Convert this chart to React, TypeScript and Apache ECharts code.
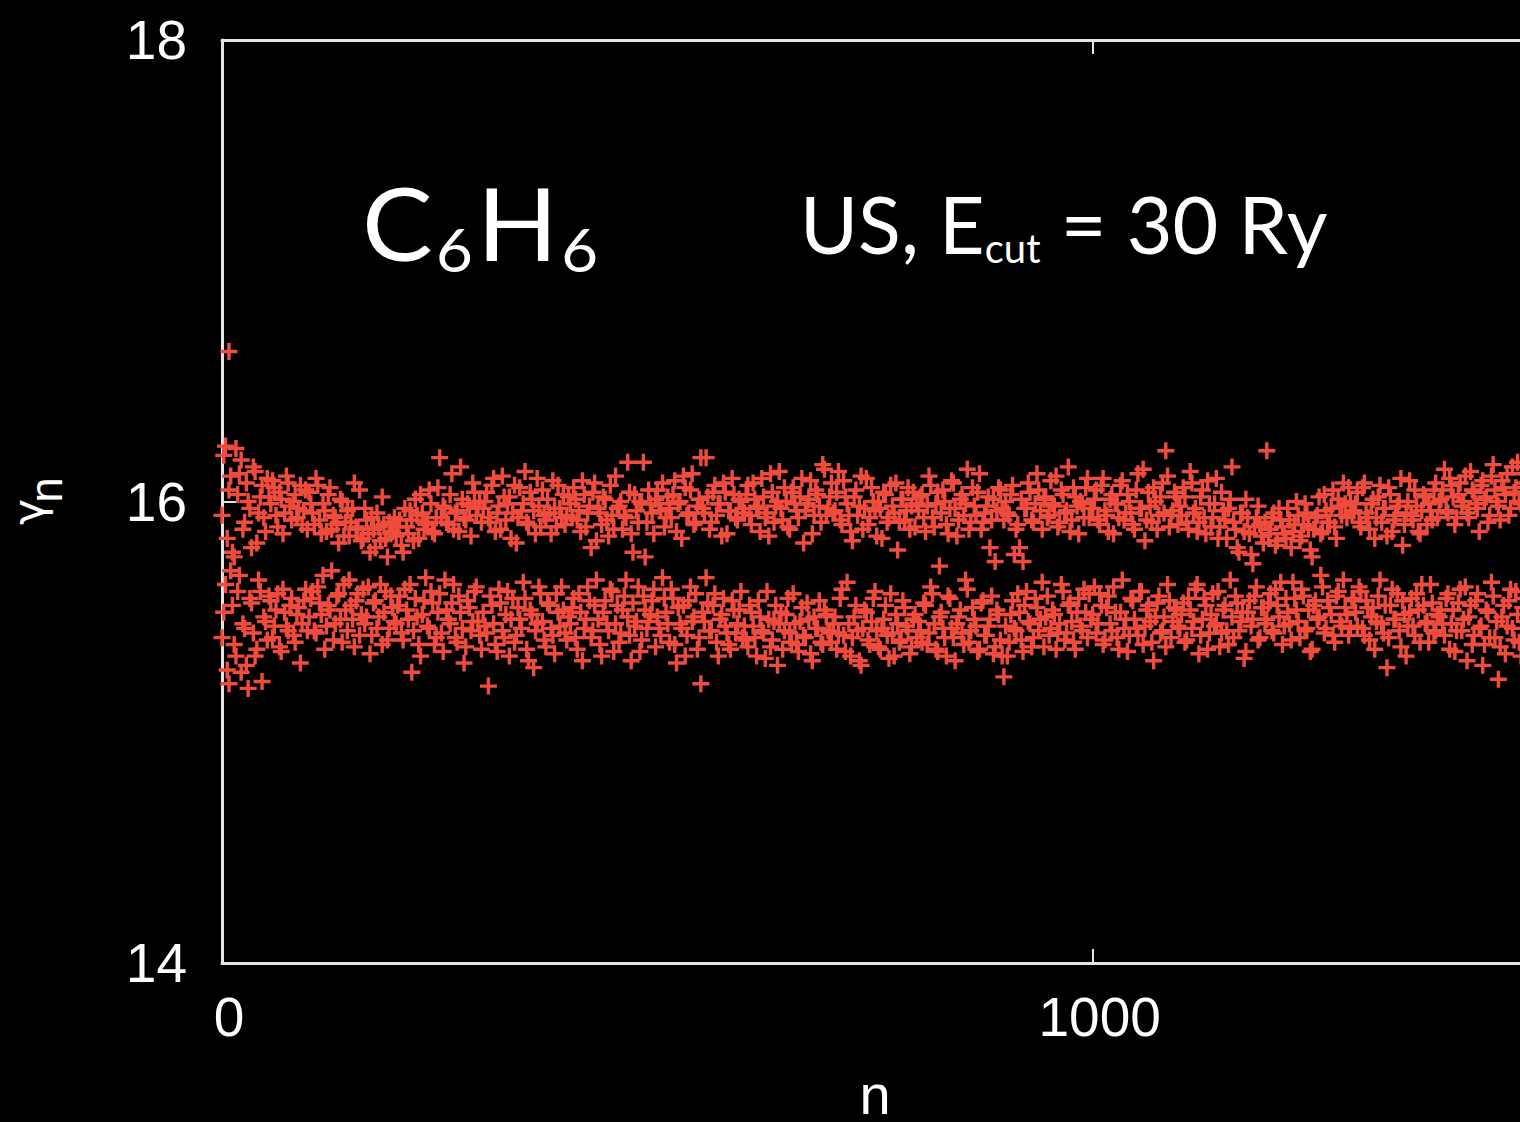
import React, { useEffect, useRef } from "react";
import * as echarts from "echarts";

// x ticks / y ticks
const xTicks = [0, 1000];
const yTicks = [14, 16, 18];

// upper band of gamma_n, n = 0, 4, 8, ...
const upperA = [
  15.94, 16.24, 16.05, 15.78, 16.23, 16.12, 15.88, 16.08, 15.97, 16.15, 15.82, 16.02, 15.93, 16.1, 15.99, 16.06, 15.89, 16.01, 15.95, 16.08, 15.92, 16.03, 15.97, 15.9, 16.05,
  16.04, 15.95, 16.1, 15.92, 15.99, 15.87, 16.06, 15.94, 15.9, 16.01, 15.85, 15.96, 15.91, 16.08, 15.88, 15.83, 15.97, 15.86, 15.93, 15.8, 15.89, 16.02, 15.84, 15.91, 15.87,
  15.85, 15.92, 15.78, 15.89, 15.96, 15.83, 15.94, 16.03, 15.88, 15.91, 15.99, 15.86, 16.06, 15.93, 15.97, 15.9, 16.12, 15.95, 15.87, 16.01, 15.92, 15.98, 16.08, 15.94, 16.0,
  15.97, 16.04, 15.91, 16.1, 15.95, 15.88, 16.02, 15.99, 15.84, 16.07, 15.93, 15.96, 16.13, 15.9, 16.01, 15.86, 15.98, 16.05, 15.92, 15.95, 16.09, 15.89, 15.97, 16.03, 15.94,
  15.99, 16.06, 15.92, 15.87, 16.03, 15.95, 15.8, 16.08, 15.97, 15.9, 16.01, 15.85, 15.94, 16.11, 15.98, 15.88, 15.93, 16.04, 15.78, 15.96, 16.0, 16.17, 15.91, 15.99, 15.86,
];
const upperB = [
  16.05, 15.96, 15.89, 16.02, 15.93, 16.09, 15.99, 15.84, 16.06, 15.95, 16.12, 15.91, 16.01, 15.97, 16.19, 15.88, 16.04, 15.94, 15.99, 16.08, 15.86, 15.96, 16.03, 15.92, 16.0,
  15.95, 16.07, 15.9, 16.01, 15.97, 16.1, 15.93, 15.85, 16.04, 15.98, 16.13, 15.92, 16.0, 15.88, 16.06, 15.96, 16.02, 15.82, 15.99, 16.09, 15.94, 16.03, 15.91, 16.14, 15.97,
  16.08, 15.96, 16.13, 15.9, 16.02, 15.94, 15.83, 16.05, 15.98, 15.88, 16.1, 15.93, 16.0, 15.85, 15.97, 16.04, 15.91, 16.07, 15.95, 15.79, 16.01, 15.92, 16.06, 15.98, 15.89,
  15.96, 16.03, 15.87, 16.11, 15.93, 15.99, 15.72, 16.05, 15.9, 15.97, 16.08, 15.85, 16.01, 15.94, 16.14, 15.91, 15.98, 16.04, 15.88, 15.95, 16.02, 15.92, 15.74, 16.06, 15.97,
  16.0, 15.94, 16.07, 15.88, 15.8, 15.74, 15.97, 16.04, 15.91, 16.12, 15.96, 16.01, 15.93, 16.09, 15.98, 15.89, 16.05, 15.95, 16.15, 15.92, 16.02, 15.86, 15.99, 16.06, 15.93,
];
const upperC = [
  15.97, 16.05, 15.9, 16.1, 15.94, 16.01, 15.86, 15.99, 16.07, 15.92, 16.03, 15.95, 15.88, 16.12, 15.97, 15.83, 16.04, 15.91, 16.0, 15.94, 16.08, 16.22, 15.89, 15.96, 16.02,
  15.98, 16.06, 15.91, 16.13, 15.95, 15.87, 16.02, 15.93, 16.09, 15.89, 15.99, 15.84, 16.04, 15.92, 15.97, 16.15, 15.88, 15.78, 15.95, 16.01, 15.86, 15.73, 15.93, 15.9, 15.82,
  16.22, 15.88, 15.95, 15.83, 15.92, 15.86, 15.97, 15.8, 15.9, 15.94, 15.85, 15.99, 15.89, 15.76, 15.93, 16.02, 15.87, 15.96, 15.91, 16.05, 15.84, 15.98, 16.08, 15.93, 16.0,
  15.96, 16.04, 15.89, 16.08, 15.93, 15.99, 15.84, 16.02, 15.91, 15.97, 16.06, 15.87, 15.94, 16.0, 15.81, 15.95, 16.09, 15.92, 15.98, 15.86, 16.03, 15.9, 15.96, 16.05, 15.93,
  16.01, 16.14, 15.95, 16.07, 15.9, 16.03, 15.98, 16.11, 15.93, 16.05, 15.99, 15.87, 16.09, 16.02, 15.94, 16.16, 16.0, 15.92, 16.06, 16.12, 15.97, 16.04, 16.17, 15.99, 16.08,
];
// upper band, n = 2, 6, 10, ...
const upperD = [
  16.2, 15.84, 16.11, 15.76, 16.03, 16.18, 15.91, 16.0, 15.8, 16.13, 15.95, 16.07, 15.87, 16.02, 16.09, 15.94, 16.04, 15.86, 16.11, 15.98, 16.0, 15.93, 16.07, 15.96, 15.88,
  15.99, 15.9, 16.07, 15.86, 15.96, 16.03, 15.88, 15.93, 15.82, 16.0, 15.91, 15.85, 15.97, 15.89, 16.05, 15.84, 15.92, 15.78, 15.88, 15.95, 15.83, 15.9, 15.76, 15.86, 15.93,
  15.89, 15.81, 15.97, 15.86, 15.92, 16.01, 15.84, 15.95, 15.9, 16.05, 15.87, 15.93, 16.19, 15.98, 15.91, 16.03, 15.88, 15.96, 16.15, 15.93, 15.99, 15.85, 16.04, 15.97, 15.91,
  16.0, 15.93, 16.07, 15.87, 15.98, 16.11, 15.92, 16.02, 15.95, 15.82, 16.06, 15.99, 15.91, 16.04, 15.96, 16.1, 15.89, 15.94, 16.01, 15.86, 15.97, 16.07, 15.93, 15.9, 16.02,
  15.93, 16.01, 15.96, 16.09, 15.89, 15.98, 16.04, 15.83, 15.95, 16.02, 15.92, 16.07, 15.88, 15.97, 16.0, 15.94, 16.17, 15.86, 16.03, 15.91, 15.99, 15.76, 16.05, 15.95, 16.01,
];
const upperE = [
  15.99, 16.08, 15.93, 15.97, 16.03, 15.87, 16.0, 16.11, 15.94, 16.05, 15.9, 15.98, 16.19, 15.95, 16.02, 15.91, 16.07, 15.99, 15.85, 16.04, 15.96, 16.1, 15.93, 16.01, 15.97,
  16.03, 15.94, 16.08, 15.98, 15.87, 16.02, 15.95, 16.12, 15.91, 16.0, 15.97, 16.06, 15.89, 16.04, 15.99, 15.93, 16.1, 15.96, 16.01, 15.86, 16.05, 15.98, 16.16, 15.94, 16.02,
  15.95, 16.04, 15.92, 16.09, 15.99, 15.87, 16.02, 15.94, 16.11, 15.97, 15.9, 16.06, 15.96, 16.0, 15.84, 16.03, 15.93, 15.98, 16.08, 15.91, 16.01, 15.96, 15.88, 16.04, 15.99,
  16.02, 15.93, 15.98, 16.07, 15.89, 16.04, 15.95, 16.0, 15.86, 16.09, 15.97, 15.92, 16.03, 15.99, 15.88, 16.06, 15.94, 16.12, 15.91, 15.98, 15.8, 16.01, 15.96, 16.05, 15.92,
  15.95, 16.03, 15.77, 15.9, 16.01, 15.97, 16.08, 15.92, 15.99, 16.05, 15.88, 16.02, 15.94, 15.99, 16.11, 15.91, 16.03, 15.96, 15.87, 16.06, 15.98, 16.0, 15.93, 16.1, 15.97,
];
const upperF = [
  16.01, 15.92, 16.07, 15.96, 15.87, 16.03, 15.99, 15.93, 16.09, 15.95, 16.0, 15.9, 16.05, 15.97, 16.14, 15.92, 15.98, 16.06, 15.88, 16.02, 15.95, 16.11, 15.94, 16.04, 15.9,
  15.94, 16.02, 15.88, 16.08, 15.97, 15.91, 16.05, 15.86, 15.99, 15.93, 16.1, 15.89, 15.96, 15.84, 16.01, 15.91, 15.8, 15.95, 15.87, 15.93, 15.77, 15.89, 15.98, 15.85, 15.91,
  15.86, 15.93, 15.81, 15.97, 15.89, 15.84, 15.92, 15.87, 16.0, 15.83, 15.9, 15.95, 15.79, 15.88, 15.94, 15.86, 16.03, 15.91, 15.97, 15.89, 16.01, 15.94, 15.99, 16.06, 15.95,
  15.99, 15.91, 16.06, 15.95, 15.88, 16.01, 15.93, 16.07, 15.97, 15.85, 16.03, 15.92, 15.98, 16.1, 15.9, 16.0, 15.94, 16.05, 15.87, 15.96, 16.02, 15.99, 15.92, 16.08, 16.0,
  16.05, 15.96, 16.1, 16.02, 15.93, 16.08, 16.0, 15.95, 16.13, 16.04, 15.97, 16.07, 16.01, 15.91, 16.11, 16.05, 15.98, 16.09, 16.03, 15.94, 16.15, 16.06, 16.0, 16.12, 16.04,
];

// lower band of gamma_n, n = 2, 6, 10, ...
const lowerA = [
  15.52, 15.27, 15.7, 15.38, 15.61, 15.26, 15.45, 15.19, 15.56, 15.33, 15.66, 15.22, 15.48, 15.59, 15.41, 15.53, 15.37, 15.62, 15.46, 15.55, 15.42, 15.51, 15.3, 15.57, 15.44,
  15.58, 15.44, 15.63, 15.51, 15.36, 15.55, 15.7, 15.47, 15.6, 15.39, 15.53, 15.66, 15.49, 15.57, 15.42, 15.62, 15.5, 15.34, 15.56, 15.45, 15.64, 15.52, 15.4, 15.59, 15.48,
  15.55, 15.43, 15.62, 15.49, 15.26, 15.58, 15.38, 15.51, 15.67, 15.45, 15.56, 15.41, 15.6, 15.35, 15.53, 15.47, 15.64, 15.39, 15.52, 15.3, 15.57, 15.44, 15.61, 15.48, 15.36,
  15.46, 15.2, 15.55, 15.38, 15.62, 15.44, 15.51, 15.33, 15.58, 15.42, 15.49, 15.65, 15.36, 15.53, 15.28, 15.47, 15.6, 15.4, 15.56, 15.45, 15.34, 15.52, 15.63, 15.43, 15.5,
  15.54, 15.41, 15.6, 15.31, 15.49, 15.57, 15.44, 15.66, 15.38, 15.52, 15.47, 15.62, 15.35, 15.55, 15.43, 15.59, 15.5, 15.31, 15.46, 15.63, 15.4, 15.53, 15.48, 15.57, 15.37,
];
const lowerB = [
  15.45, 15.67, 15.52, 15.39, 15.58, 15.3, 15.47, 15.55, 15.42, 15.63, 15.5, 15.36, 15.21, 15.48, 15.56, 15.44, 15.6, 15.33, 15.51, 15.46, 15.38, 15.57, 15.43, 15.53, 15.41,
  15.4, 15.55, 15.46, 15.33, 15.5, 15.43, 15.61, 15.37, 15.48, 15.29, 15.52, 15.44, 15.58, 15.39, 15.47, 15.35, 15.54, 15.41, 15.49, 15.31, 15.45, 15.57, 15.38, 15.51, 15.43,
  15.47, 15.36, 15.58, 15.42, 15.65, 15.33, 15.5, 15.44, 15.29, 15.53, 15.4, 15.48, 15.61, 15.37, 15.45, 15.55, 15.32, 15.43, 15.51, 15.39, 15.57, 15.46, 15.34, 15.49, 15.41,
  15.44, 15.56, 15.38, 15.63, 15.47, 15.35, 15.52, 15.41, 15.59, 15.45, 15.31, 15.5, 15.43, 15.66, 15.39, 15.54, 15.46, 15.36, 15.57, 15.42, 15.49, 15.34, 15.53, 15.4, 15.24,
  15.33, 15.51, 15.45, 15.6, 15.4, 15.55, 15.48, 15.37, 15.58, 15.44, 15.65, 15.5, 15.42, 15.53, 15.36, 15.47, 15.61, 15.43, 15.56, 15.39, 15.52, 15.46, 15.62, 15.41, 15.49,
];
const lowerC = [
  15.63, 15.47, 15.55, 15.4, 15.59, 15.44, 15.52, 15.36, 15.66, 15.49, 15.42, 15.57, 15.45, 15.61, 15.38, 15.53, 15.48, 15.31, 15.56, 15.43, 15.5, 15.64, 15.41, 15.54, 15.46,
  15.51, 15.39, 15.58, 15.45, 15.62, 15.34, 15.49, 15.55, 15.43, 15.6, 15.47, 15.37, 15.53, 15.44, 15.66, 15.41, 15.56, 15.48, 15.32, 15.52, 15.46, 15.59, 15.4, 15.54, 15.47,
  15.56, 15.44, 15.62, 15.5, 15.38, 15.58, 15.47, 15.65, 15.53, 15.41, 15.59, 15.45, 15.35, 15.55, 15.49, 15.68, 15.43, 15.57, 15.51, 15.39, 15.61, 15.46, 15.54, 15.42, 15.58,
  15.52, 15.63, 15.45, 15.57, 15.4, 15.54, 15.48, 15.66, 15.43, 15.28, 15.55, 15.49, 15.6, 15.37, 15.51, 15.46, 15.58, 15.42, 15.53, 15.64, 15.47, 15.39, 15.56, 15.44, 15.5,
  15.47, 15.58, 15.36, 15.53, 15.44, 15.62, 15.49, 15.31, 15.55, 15.42, 15.6, 15.46, 15.38, 15.52, 15.65, 15.41, 15.23, 15.5, 15.34, 15.57, 15.45, 15.61, 15.39, 15.54, 15.48,
];
// lower band, n = 0, 4, 8, ...
const lowerD = [
  15.41, 15.64, 15.21, 15.55, 15.33, 15.68, 15.47, 15.29, 15.58, 15.43, 15.36, 15.61, 15.5, 15.4, 15.57, 15.46, 15.6, 15.35, 15.52, 15.44, 15.58, 15.39, 15.54, 15.47, 15.62,
  15.5, 15.61, 15.43, 15.56, 15.68, 15.46, 15.53, 15.4, 15.59, 15.49, 15.64, 15.44, 15.55, 15.37, 15.6, 15.51, 15.47, 15.63, 15.42, 15.57, 15.5, 15.38, 15.61, 15.45, 15.54,
  15.47, 15.59, 15.4, 15.53, 15.64, 15.44, 15.5, 15.33, 15.57, 15.46, 15.61, 15.38, 15.52, 15.43, 15.66, 15.49, 15.56, 15.41, 15.59, 15.45, 15.37, 15.54, 15.48, 15.63, 15.42,
  15.52, 15.43, 15.59, 15.47, 15.35, 15.56, 15.41, 15.61, 15.49, 15.39, 15.54, 15.45, 15.58, 15.31, 15.51, 15.44, 15.63, 15.48, 15.37, 15.55, 15.42, 15.6, 15.46, 15.53, 15.4,
  15.47, 15.58, 15.36, 15.52, 15.45, 15.63, 15.41, 15.55, 15.49, 15.33, 15.57, 15.44, 15.61, 15.47, 15.39, 15.53, 15.66, 15.42, 15.56, 15.48, 15.35, 15.59, 15.45, 15.51, 15.62,
];
const lowerE = [
  15.5, 15.42, 15.58, 15.47, 15.62, 15.38, 15.54, 15.45, 15.33, 15.57, 15.48, 15.6, 15.41, 15.52, 15.67, 15.44, 15.55, 15.39, 15.49, 15.58, 15.43, 15.36, 15.53, 15.47, 15.61,
  15.46, 15.37, 15.52, 15.41, 15.57, 15.44, 15.32, 15.49, 15.4, 15.55, 15.47, 15.36, 15.51, 15.43, 15.6, 15.38, 15.48, 15.42, 15.56, 15.34, 15.5, 15.45, 15.39, 15.53, 15.44,
  15.39, 15.5, 15.43, 15.62, 15.35, 15.47, 15.41, 15.55, 15.31, 15.45, 15.52, 15.38, 15.58, 15.44, 15.36, 15.49, 15.42, 15.6, 15.33, 15.47, 15.4, 15.54, 15.44, 15.37, 15.51,
  15.48, 15.39, 15.55, 15.43, 15.6, 15.36, 15.5, 15.45, 15.33, 15.58, 15.41, 15.47, 15.53, 15.38, 15.62, 15.44, 15.49, 15.35, 15.56, 15.42, 15.46, 15.59, 15.37, 15.51, 15.33,
  15.46, 15.39, 15.57, 15.44, 15.52, 15.35, 15.61, 15.47, 15.41, 15.54, 15.49, 15.37, 15.59, 15.45, 15.51, 15.43, 15.64, 15.4, 15.55, 15.48, 15.36, 15.58, 15.44, 15.52, 15.6,
];
const lowerF = [
  15.51, 15.43, 15.6, 15.38, 15.54, 15.47, 15.63, 15.41, 15.52, 15.45, 15.35, 15.58, 15.49, 15.42, 15.61, 15.46, 15.55, 15.39, 15.5, 15.59, 15.44, 15.37, 15.57, 15.48, 15.53,
  15.45, 15.56, 15.4, 15.53, 15.48, 15.64, 15.42, 15.58, 15.36, 15.51, 15.46, 15.61, 15.43, 15.55, 15.38, 15.5, 15.59, 15.44, 15.52, 15.35, 15.57, 15.49, 15.63, 15.41, 15.54,
  15.49, 15.6, 15.43, 15.55, 15.65, 15.46, 15.52, 15.4, 15.58, 15.48, 15.62, 15.44, 15.53, 15.36, 15.57, 15.5, 15.63, 15.45, 15.54, 15.42, 15.59, 15.48, 15.66, 15.51, 15.45,
  15.57, 15.46, 15.61, 15.42, 15.54, 15.5, 15.36, 15.59, 15.47, 15.55, 15.41, 15.62, 15.49, 15.44, 15.57, 15.33, 15.52, 15.46, 15.6, 15.39, 15.55, 15.48, 15.64, 15.43, 15.51,
  15.53, 15.42, 15.6, 15.47, 15.35, 15.56, 15.44, 15.63, 15.5, 15.38, 15.57, 15.45, 15.29, 15.53, 15.41, 15.59, 15.48, 15.37, 15.55, 15.46, 15.62, 15.4, 15.51, 15.33, 15.58,
];

// isolated points [n, gamma]
const outlierN = [8];
const outlierV = [16.65];

const RED = "#f04c3d";
const FRAME = "#e4e4e4";
const PLUS = "path://M40,0H60V40H100V60H60V100H40V60H0V40H40Z";

export default function App() {
  const ref = useRef<HTMLDivElement>(null);

  useEffect(() => {
    if (!ref.current) return;
    const chart = echarts.init(ref.current, undefined, { renderer: "svg" });

    const pts: number[][] = [];
    [...upperA, ...upperB, ...upperC].forEach((v, i) => pts.push([i * 4, v]));
    [...upperD, ...upperE, ...upperF].forEach((v, i) => pts.push([i * 4 + 2, v]));
    [...lowerA, ...lowerB, ...lowerC].forEach((v, i) => pts.push([i * 4 + 2, v]));
    [...lowerD, ...lowerE, ...lowerF].forEach((v, i) => pts.push([i * 4, v]));
    outlierN.forEach((n, i) => pts.push([n, outlierV[i]]));

    const tickFont = "'Liberation Sans', Arial, sans-serif";
    const annFont = "Lato, 'Open Sans', sans-serif";

    chart.setOption({
      animation: false,
      backgroundColor: "#000",
      grid: { left: 222, top: 40, right: -8, bottom: 159, containLabel: false, outerBoundsMode: "none" },
      xAxis: [
        {
          type: "value",
          position: "bottom",
          min: 0,
          max: 1500,
          interval: 1000,
          name: "n",
          nameLocation: "middle",
          nameGap: 103,
          nameTextStyle: { color: "#fff", fontSize: 56, fontFamily: tickFont },
          axisLine: { show: true, onZero: false, lineStyle: { color: FRAME, width: 3 } },
          axisTick: { show: true, inside: true, length: 14, lineStyle: { color: FRAME, width: 2 } },
          axisLabel: {
            color: "#fff",
            fontSize: 55,
            fontFamily: tickFont,
            margin: 26,
            padding: [0, 0, 0, 14],
            formatter: (v: number) => (xTicks.includes(v) ? String(v) : ""),
          },
          splitLine: { show: false },
        },
        {
          type: "value",
          position: "top",
          min: 0,
          max: 1500,
          interval: 1000,
          axisLine: { show: true, onZero: false, lineStyle: { color: FRAME, width: 3 } },
          axisTick: { show: true, inside: true, length: 14, lineStyle: { color: FRAME, width: 2 } },
          axisLabel: { show: false },
          splitLine: { show: false },
        },
      ],
      yAxis: {
        type: "value",
        min: 14,
        max: 18,
        interval: 2,
        axisLine: { show: true, onZero: false, lineStyle: { color: FRAME, width: 3 } },
        axisTick: { show: true, inside: true, length: 14, lineStyle: { color: FRAME, width: 2 } },
        axisLabel: {
          color: "#fff",
          fontSize: 55,
          fontFamily: tickFont,
          margin: 35,
          formatter: (v: number) => (yTicks.includes(v) ? String(v) : ""),
        },
        splitLine: { show: false },
      },
      series: [
        {
          type: "scatter",
          xAxisIndex: 0,
          data: pts,
          symbol: PLUS,
          symbolSize: 17,
          itemStyle: { color: RED, opacity: 1 },
          emphasis: { disabled: true },
        },
      ],
      graphic: [
        {
          type: "text",
          x: 362,
          y: 279,
          scaleX: 1.06,
          style: {
            text: "{a|C}{b|6}{a|H}{b|6}",
            fill: "#fff",
            align: "left",
            verticalAlign: "bottom",
            rich: {
              a: { fontSize: 100, fontFamily: annFont, fill: "#fff", verticalAlign: "bottom", lineHeight: 100, padding: [0, 0, 7, 0] },
              b: { fontSize: 60, fontFamily: annFont, fill: "#fff", verticalAlign: "bottom", lineHeight: 60, padding: [0, 4, 0, 3] },
            },
          },
        },
        {
          type: "text",
          x: 800,
          y: 268,
          style: {
            text: "{a|US, E}{b|cut}{a| = 30 Ry}",
            fill: "#fff",
            align: "left",
            verticalAlign: "bottom",
            rich: {
              a: { fontSize: 79, fontFamily: annFont, fill: "#fff", verticalAlign: "bottom", lineHeight: 79, padding: [0, 0, 5, 0] },
              b: { fontSize: 40, fontFamily: annFont, fill: "#fff", verticalAlign: "bottom", lineHeight: 40 },
            },
          },
        },
        {
          type: "text",
          x: 28,
          y: 512,
          rotation: Math.PI / 2,
          style: { text: "γ", fill: "#fff", fontSize: 44, fontFamily: "'DejaVu Sans', sans-serif", align: "center", verticalAlign: "middle" },
        },
        {
          type: "text",
          x: 46,
          y: 490,
          rotation: Math.PI / 2,
          style: { text: "n", fill: "#fff", fontSize: 46, fontFamily: tickFont, align: "center", verticalAlign: "middle" },
        },
      ],
    });

    return () => chart.dispose();
  }, []);

  return (
    <div
      ref={ref}
      style={{ position: "fixed", left: 0, top: 0, width: 1520, height: 1122, background: "#000", overflow: "hidden" }}
    />
  );
}
